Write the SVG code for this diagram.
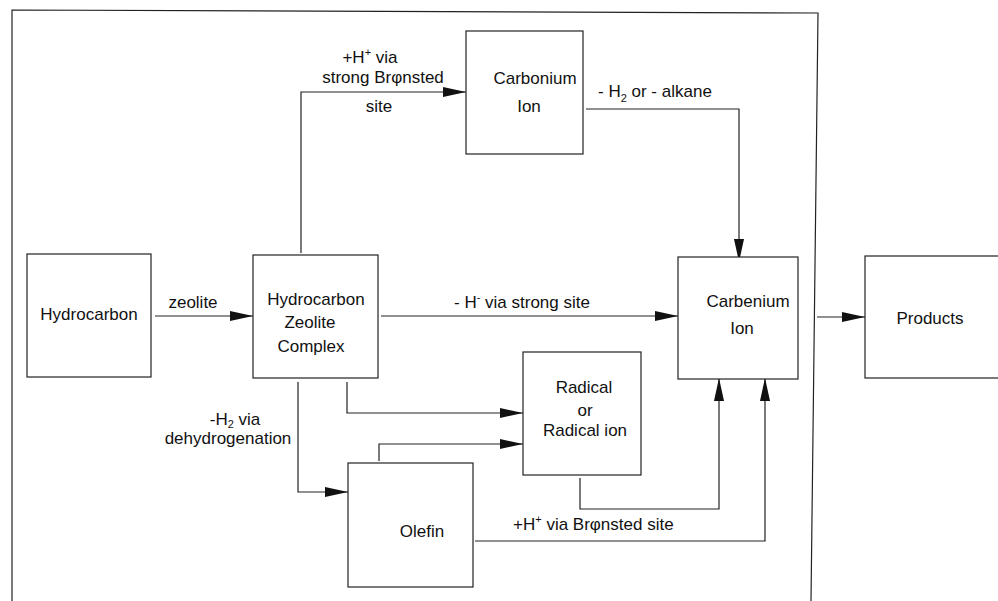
<svg xmlns="http://www.w3.org/2000/svg" width="998" height="601" viewBox="0 0 998 601">
<style>
  .box { fill: #fff; stroke: #222; stroke-width: 1.2; }
  .ln { fill: none; stroke: #222; stroke-width: 1.2; }
  text { font-family: "Liberation Sans", Arial, sans-serif; font-size: 17px; fill: #111; }
  .c { text-anchor: middle; }
  .sup { font-size: 11px; }
</style>
<defs>
  <marker id="arr" markerUnits="userSpaceOnUse" markerWidth="24" markerHeight="12" refX="23" refY="6" orient="auto">
    <path d="M0,1 L23,6 L0,11 Z" fill="#111"/>
  </marker>
</defs>
<rect width="998" height="601" fill="#fff"/>
<g id="frame">
  <path class="ln" d="M12,601 L12,10 L818,13 L811,601"/>
</g>
<g id="connectors">
  <path class="ln" d="M301,253 L301,92 L466,92" marker-end="url(#arr)"/>
  <path class="ln" d="M586,109 L739,109 L739,262" marker-end="url(#arr)"/>
  <path class="ln" d="M155,316 L253,316" marker-end="url(#arr)"/>
  <path class="ln" d="M381,316 L678,316" marker-end="url(#arr)"/>
  <path class="ln" d="M817,317 L865,317" marker-end="url(#arr)"/>
  <path class="ln" d="M347,382 L347,413 L523,413" marker-end="url(#arr)"/>
  <path class="ln" d="M379,461 L379,444 L523,444" marker-end="url(#arr)"/>
  <path class="ln" d="M298,382 L298,492 L348,492" marker-end="url(#arr)"/>
  <path class="ln" d="M580,478 L580,509 L719,509 L719,378" marker-end="url(#arr)"/>
  <path class="ln" d="M475,541 L765,541 L765,378" marker-end="url(#arr)"/>
</g>
<g id="labels">
  <text x="370" y="63" class="c">+H<tspan class="sup" dy="-7">+</tspan><tspan dy="7"> via</tspan></text>
  <text x="383" y="83" class="c">strong Brφnsted</text>
  <text x="379" y="112" class="c">site</text>
  <text x="598" y="97">- H<tspan class="sup" dy="5">2</tspan><tspan dy="-5"> or - alkane</tspan></text>
  <text x="193" y="308" class="c">zeolite</text>
  <text x="454" y="308">- H<tspan class="sup" dy="-7">-</tspan><tspan dy="7"> via strong site</tspan></text>
  <text x="235" y="425" class="c">-H<tspan class="sup" dy="3">2</tspan><tspan dy="-3"> via</tspan></text>
  <text x="228" y="444" class="c">dehydrogenation</text>
  <text x="513" y="530">+H<tspan class="sup" dy="-7">+</tspan><tspan dy="7"> via Brφnsted site</tspan></text>
</g>
<g id="hydrocarbon">
  <rect class="box" x="27" y="254" width="124" height="123"/>
  <text x="89" y="320" class="c">Hydrocarbon</text>
</g>
<g id="complex">
  <rect class="box" x="253" y="255" width="125" height="123"/>
  <text x="316" y="305" class="c">Hydrocarbon</text>
  <text x="310" y="328" class="c">Zeolite</text>
  <text x="311" y="352" class="c">Complex</text>
</g>
<g id="carbonium">
  <rect class="box" x="466" y="31" width="117" height="123"/>
  <text x="535" y="84" class="c">Carbonium</text>
  <text x="529" y="112" class="c">Ion</text>
</g>
<g id="carbenium">
  <rect class="box" x="678" y="257" width="120" height="122"/>
  <text x="748" y="307" class="c">Carbenium</text>
  <text x="742" y="334" class="c">Ion</text>
</g>
<g id="products">
  <rect class="box" x="865" y="256" width="140" height="122"/>
  <text x="930" y="324" class="c">Products</text>
</g>
<g id="radical">
  <rect class="box" x="523" y="352" width="118" height="123"/>
  <text x="584" y="393" class="c">Radical</text>
  <text x="585" y="416" class="c">or</text>
  <text x="585" y="436" class="c">Radical ion</text>
</g>
<g id="olefin">
  <rect class="box" x="348" y="463" width="125" height="124"/>
  <text x="422" y="537" class="c">Olefin</text>
</g>
</svg>
